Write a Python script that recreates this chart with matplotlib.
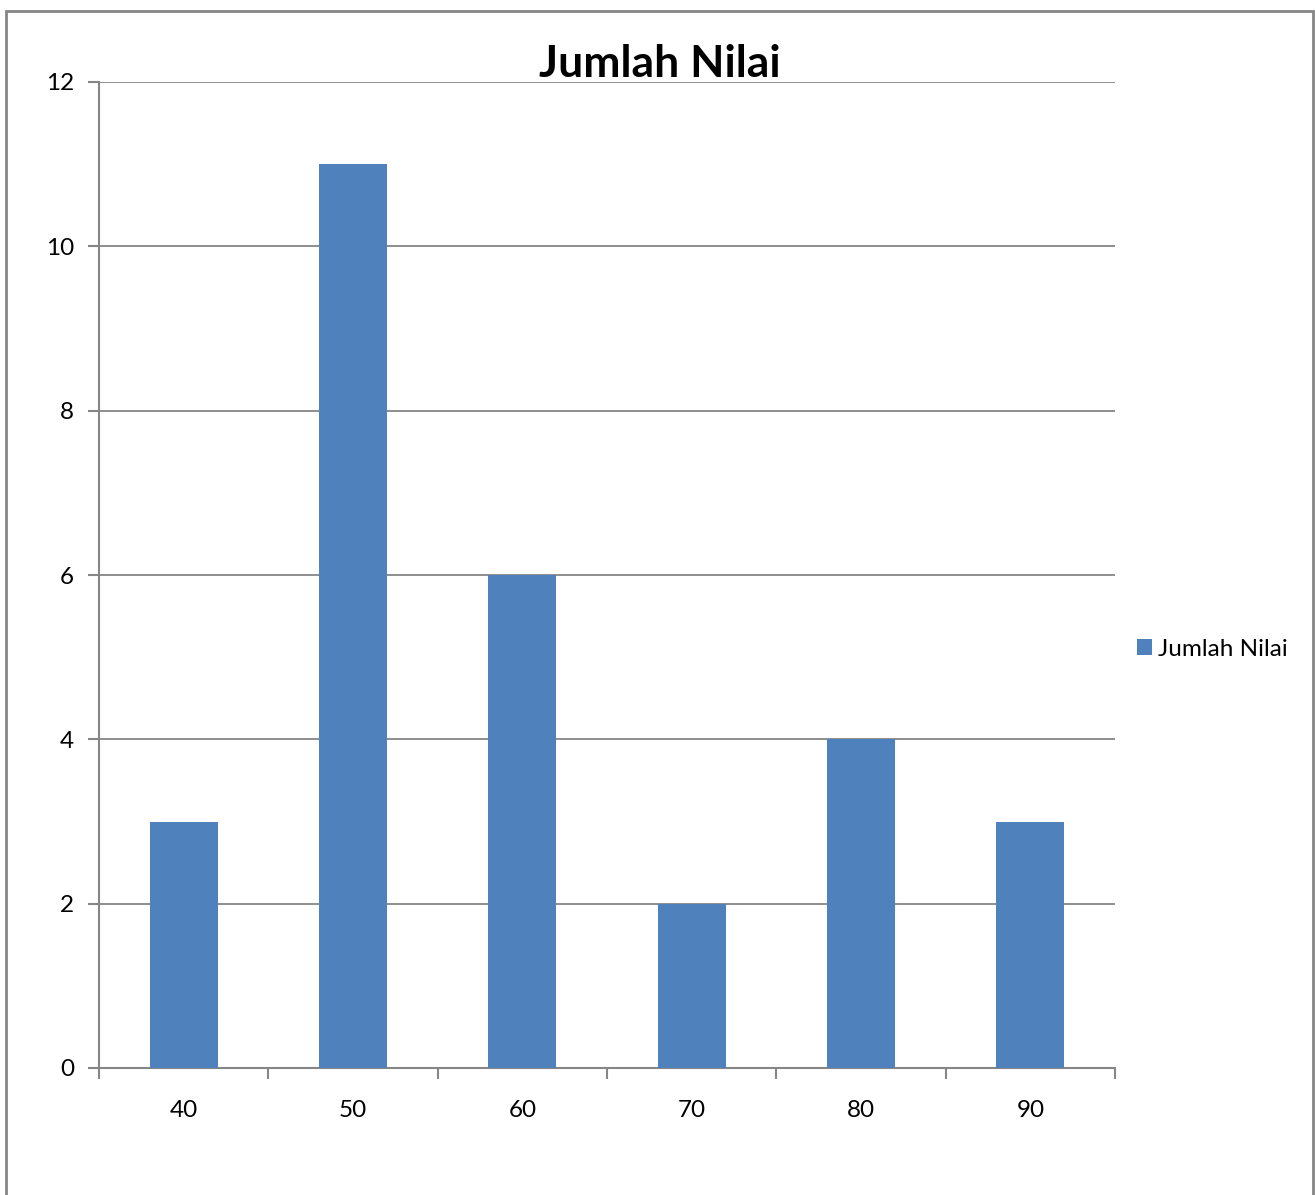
import matplotlib.pyplot as plt
from matplotlib.patches import Rectangle

# Data
kategori = ['40', '50', '60', '70', '80', '90']
jumlah = [3, 11, 6, 2, 4, 3]

warna_bar = '#4F81BD'
abu = '#868686'

plt.rcParams['font.family'] = ['Lato', 'DejaVu Sans']

fig = plt.figure(figsize=(13.15, 11.95), dpi=100)
W, H = 1315, 1195

# Bingkai grafik
fig.patches.append(Rectangle((6 / W, -0.01), (1313 - 6) / W, 1.01 - 11 / H,
                             transform=fig.transFigure, fill=False,
                             edgecolor=abu, linewidth=2))

ax = fig.add_axes([99 / W, 1 - 1068 / H, (1115 - 99) / W, (1068 - 82) / H])

posisi = range(len(kategori))
bars = ax.bar(posisi, jumlah, width=0.4, color=warna_bar, zorder=3, label='Jumlah Nilai')

ax.set_xlim(-0.5, len(kategori) - 0.5)
ax.set_ylim(0, 12)
ax.set_yticks(range(0, 13, 2))
ax.set_xticks(list(posisi))
ax.set_xticklabels(kategori)
ax.set_xticks([i - 0.5 for i in range(len(kategori) + 1)], minor=True)

ax.grid(axis='y', color=abu, linewidth=1.3, zorder=0)
for s in ['top', 'right']:
    ax.spines[s].set_visible(False)
for s in ['left', 'bottom']:
    ax.spines[s].set_color(abu)
    ax.spines[s].set_linewidth(1.5)

ax.tick_params(axis='x', which='major', length=0, pad=23, labelsize=17.5)
ax.tick_params(axis='x', which='minor', length=8, color=abu, width=1.5, direction='out')
ax.tick_params(axis='y', length=8, color=abu, width=1.5, pad=10, labelsize=17.5)

fig.text(660 / W, 1 - 64 / H, 'Jumlah Nilai', ha='center', va='center',
         fontsize=32, fontweight='bold')

fig.legend(handles=[bars], labels=['Jumlah Nilai'], loc='center left',
           bbox_to_anchor=(1137 / W, 1 - 649 / H), frameon=False, fontsize=17.5,
           handlelength=0.6, handleheight=0.6, handletextpad=0.25,
           borderpad=0, borderaxespad=0)

fig.savefig('out.png', dpi=100)
